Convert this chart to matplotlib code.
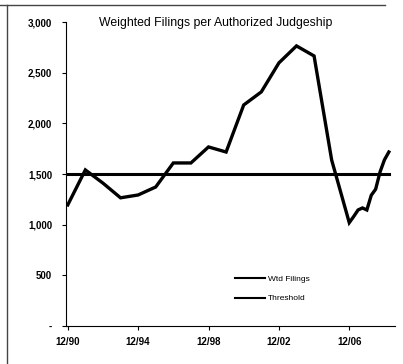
import numpy as np
import matplotlib.pyplot as plt
from matplotlib.lines import Line2D
from matplotlib.ticker import FuncFormatter

plt.rcParams['font.family'] = ['Liberation Sans', 'DejaVu Sans']

# yearly values 12/90 .. 12/06, then quarterly to early 2009
years = [1990, 1991, 1992, 1993, 1994, 1995, 1996, 1997, 1998, 1999,
         2000, 2001, 2002, 2003, 2004, 2005, 2006,
         2006.25, 2006.5, 2006.75, 2007, 2007.25, 2007.5, 2007.75, 2008, 2008.25]
wtd_filings = [1195, 1540, 1410, 1265, 1293, 1372, 1609, 1609, 1767, 1717,
               2181, 2310, 2596, 2764, 2665, 1638, 1020,
               1080, 1145, 1165, 1145, 1290, 1350, 1520, 1640, 1717]
threshold = [1500] * len(years)

tick_years = [1990, 1994, 1998, 2002, 2006]
tick_labels = ['12/90', '12/94', '12/98', '12/02', '12/06']
y_ticks = [0, 500, 1000, 1500, 2000, 2500, 3000]

fig = plt.figure(figsize=(4.03, 3.64), dpi=100)
ax = fig.add_axes([66 / 403, 38 / 364, 329 / 403, 304 / 364])

ax.plot(years, wtd_filings, color='black', linewidth=2.4, solid_joinstyle='miter')
ax.plot(years, threshold, color='black', linewidth=2.2)

ax.set_xlim(1989.9, 2008.6)
ax.set_ylim(0, 3000)
ax.set_xticks(tick_years)
ax.set_xticklabels(tick_labels)
ax.set_yticks(y_ticks)
ax.yaxis.set_major_formatter(FuncFormatter(lambda v, p: '-' if v == 0 else '{:,.0f}'.format(v)))

for s in ['top', 'right']:
    ax.spines[s].set_visible(False)
ax.spines['left'].set_linewidth(0.8)
ax.spines['bottom'].set_linewidth(0.8)
ax.tick_params(axis='y', length=3, width=0.8, pad=7, labelsize=7)
ax.tick_params(axis='x', length=3, width=0.8, pad=5, labelsize=7)
for lab in ax.get_xticklabels() + ax.get_yticklabels():
    lab.set_fontweight('bold')

ax.text(0.456, 0.997, 'Weighted Filings per Authorized Judgeship', transform=ax.transAxes,
        ha='center', va='center', fontsize=8.8)

handles = [Line2D([], [], color='black', linewidth=1.5),
           Line2D([], [], color='black', linewidth=1.5)]
ax.legend(handles, ['Wtd Filings', 'Threshold'], loc='center left',
          bbox_to_anchor=(235 / 403, 1 - 289 / 364), bbox_transform=fig.transFigure,
          frameon=False, fontsize=6, handlelength=3.6, handletextpad=0.3,
          labelspacing=1.35, borderpad=0, borderaxespad=0)

# scanned page frame
fig.add_artist(Line2D([7 / 403, 7 / 403], [0, 1 - 5 / 364], color='#444444', linewidth=1))
fig.add_artist(Line2D([0, 385 / 403], [1 - 5 / 364, 1 - 5 / 364], color='#444444', linewidth=1))

fig.savefig('out.png', dpi=100)
